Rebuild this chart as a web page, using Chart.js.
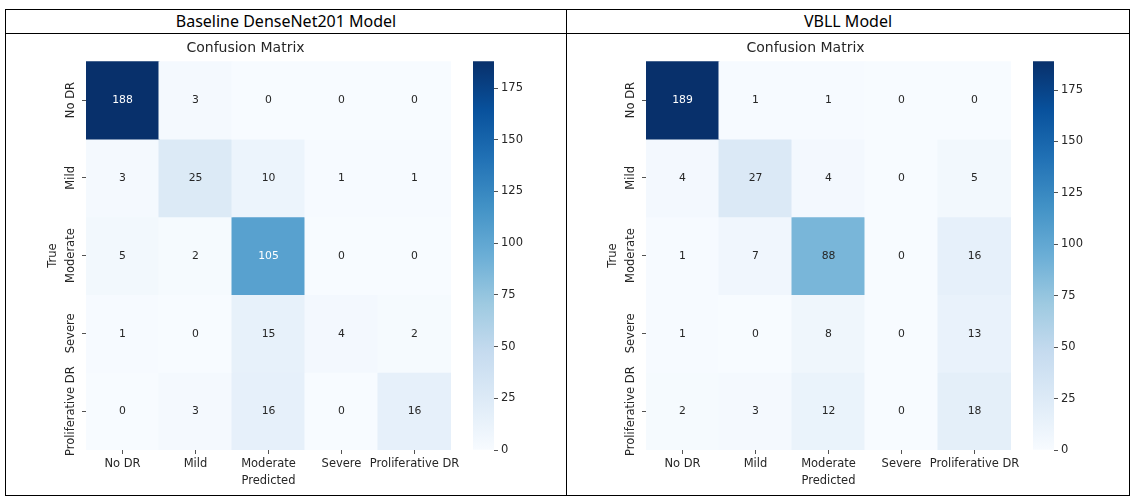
<!DOCTYPE html>
<html>
<head>
<meta charset="utf-8">
<script src="https://cdn.jsdelivr.net/npm/chart.js@4.4.0/dist/chart.umd.min.js"></script>
<style>
  body { margin:0; background:#fff; width:1136px; height:498px; position:relative; overflow:hidden; }
  .linea { position:absolute; background:#000; }
  .cabecera { position:absolute; top:10px; height:23px; line-height:23px; text-align:center;
              font-family:'Noto Sans', 'Open Sans', sans-serif; font-size:16px; color:#000; }
  .caja { position:absolute; top:36px; height:456px; }
</style>
</head>
<body>
<div class="linea" style="left:5px;top:9px;width:1125px;height:1px"></div>
<div class="linea" style="left:5px;top:33px;width:1125px;height:1px"></div>
<div class="linea" style="left:5px;top:495px;width:1125px;height:1px"></div>
<div class="linea" style="left:5px;top:9px;width:1px;height:487px"></div>
<div class="linea" style="left:566px;top:9px;width:1px;height:487px"></div>
<div class="linea" style="left:1129px;top:9px;width:1px;height:487px"></div>

<div class="cabecera" style="left:6px;width:560px">Baseline DenseNet201 Model</div>
<div class="cabecera" style="left:567px;width:562px">VBLL Model</div>

<div class="caja" style="left:473px;width:60px"><canvas id="cb-base"></canvas></div>
<div class="caja" style="left:1033px;width:60px"><canvas id="cb-vbll"></canvas></div>
<div class="caja" style="left:40px;width:430px"><canvas id="hm-base"></canvas></div>
<div class="caja" style="left:600px;width:430px"><canvas id="hm-vbll"></canvas></div>

<script>
/* matrices de confusión — filas = clase real, columnas = clase predicha */
const CLASES = ['No DR', 'Mild', 'Moderate', 'Severe', 'Proliferative DR'];

const BASE_FILAS = [
  [188, 3,   0, 0,  0],
  [  3, 25, 10, 1,  1],
  [  5, 2, 105, 0,  0],
  [  1, 0,  15, 4,  2],
  [  0, 3,  16, 0, 16],
];

const VBLL_FILAS = [
  [189, 1,  1, 0,  0],
  [  4, 27, 4, 0,  5],
  [  1, 7, 88, 0, 16],
  [  1, 0,  8, 0, 13],
  [  2, 3, 12, 0, 18],
];

const TICKS_BARRA = [0, 25, 50, 75, 100, 125, 150, 175];

// mapa de color "Blues" de matplotlib
const BLUES = ['#f7fbff', '#deebf7', '#c6dbef', '#9ecae1', '#6baed6',
               '#4292c6', '#2171b5', '#08519c', '#08306b'];

const FUENTE = "'DejaVu Sans', sans-serif";
const TEXTO = '#262626';

function hexRgb(h) {
  return [1, 3, 5].map(i => parseInt(h.slice(i, i + 2), 16));
}

function blues(t) {
  t = Math.max(0, Math.min(1, t));
  const pos = t * (BLUES.length - 1);
  const i = Math.min(Math.floor(pos), BLUES.length - 2);
  const f = pos - i;
  const a = hexRgb(BLUES[i]), b = hexRgb(BLUES[i + 1]);
  return a.map((c, k) => Math.round(c + (b[k] - c) * f));
}

function rgbCss(c) { return `rgb(${c[0]},${c[1]},${c[2]})`; }

function luminancia(c) {
  const lin = c.map(v => {
    v /= 255;
    return v <= 0.03928 ? v / 12.92 : Math.pow((v + 0.055) / 1.055, 2.4);
  });
  return 0.2126 * lin[0] + 0.7152 * lin[1] + 0.0722 * lin[2];
}

// etiquetas del eje y giradas 90° como en seaborn
const etiquetasY = {
  id: 'etiquetasY',
  afterDraw(chart) {
    const s = chart.scales.y;
    const ctx = chart.ctx;
    ctx.save();
    ctx.fillStyle = TEXTO;
    ctx.font = `11.5px ${FUENTE}`;
    ctx.textAlign = 'center';
    ctx.textBaseline = 'middle';
    s.ticks.forEach((t, i) => {
      ctx.save();
      ctx.translate(s.right - 15, s.getPixelForValue(t.value));
      ctx.rotate(-Math.PI / 2);
      ctx.fillText(CLASES[i], 0, 0);
      ctx.restore();
    });
    ctx.restore();
  }
};

// números dentro de cada celda
const anotaciones = {
  id: 'anotaciones',
  afterDatasetsDraw(chart) {
    const ctx = chart.ctx;
    ctx.save();
    ctx.font = `10.8px ${FUENTE}`;
    ctx.textAlign = 'center';
    ctx.textBaseline = 'middle';
    chart.data.datasets.forEach((ds, i) => {
      chart.getDatasetMeta(i).data.forEach((el, j) => {
        const col = ds.colores[j];
        ctx.fillStyle = luminancia(col) > 0.408 ? TEXTO : '#ffffff';
        ctx.fillText(String(ds.valores[j]), el.x, (el.y + el.base) / 2 + 0.5);
      });
    });
    ctx.restore();
  }
};

function heatmap(id, filas) {
  const vmax = Math.max(...filas.flat());
  const datasets = filas.map((fila, i) => {
    const colores = fila.map(v => blues(v / vmax));
    return {
      data: fila.map(() => [i, i + 1]),
      valores: fila,
      colores: colores,
      backgroundColor: colores.map(rgbCss),
      borderWidth: 0,
      grouped: false,
      barPercentage: 1,
      categoryPercentage: 1,
      inflateAmount: 0.5,
    };
  });

  new Chart(document.getElementById(id), {
    type: 'bar',
    data: { labels: CLASES, datasets },
    options: {
      responsive: true,
      maintainAspectRatio: false,
      animation: false,
      layout: { padding: { top: 0, right: 19, bottom: 0, left: 0 } },
      plugins: {
        legend: { display: false },
        tooltip: { enabled: false },
        title: {
          display: true, text: 'Confusion Matrix', color: TEXTO,
          font: { family: FUENTE, size: 14, weight: 'normal', lineHeight: 1.2 },
          padding: { top: 4, bottom: 4.4 }
        }
      },
      scales: {
        x: {
          type: 'category',
          offset: true,
          border: { display: false },
          grid: { drawOnChartArea: false, offset: false, tickLength: 4, tickColor: TEXTO, tickWidth: 0.8 },
          ticks: { color: TEXTO, font: { family: FUENTE, size: 11.5 }, padding: 3, maxRotation: 0, autoSkip: false },
          title: {
            display: true, text: 'Predicted', color: TEXTO,
            font: { family: FUENTE, size: 11.5, lineHeight: 1.2 },
            padding: { top: 0, bottom: 4 }
          },
          afterFit: s => { s.height = 42; s.paddingLeft = 0; s.paddingRight = 0; }
        },
        y: {
          type: 'linear',
          min: 0, max: 5,
          reverse: true,
          afterBuildTicks: s => { s.ticks = CLASES.map((_, i) => ({ value: i + 0.5 })); },
          border: { display: false },
          grid: { drawOnChartArea: false, tickLength: 4, tickColor: TEXTO, tickWidth: 0.8 },
          ticks: { display: false },
          title: {
            display: true, text: 'True', color: TEXTO,
            font: { family: FUENTE, size: 11.5, lineHeight: 1.2 },
            padding: { top: 6, bottom: 0 }
          },
          afterFit: s => { s.width = 46; s.paddingTop = 0; s.paddingBottom = 0; }
        }
      }
    },
    plugins: [etiquetasY, anotaciones]
  });
  return vmax;
}

function gradiente(chart) {
  const a = chart.chartArea;
  if (!a) return BLUES[0];
  const g = chart.ctx.createLinearGradient(0, a.bottom, 0, a.top);
  BLUES.forEach((c, i) => g.addColorStop(i / (BLUES.length - 1), c));
  return g;
}

function barraColor(id, vmax) {
  new Chart(document.getElementById(id), {
    type: 'bar',
    data: {
      labels: [''],
      datasets: [{
        data: [vmax],
        backgroundColor: c => gradiente(c.chart),
        borderWidth: 0,
        barPercentage: 1,
        categoryPercentage: 1,
      }]
    },
    options: {
      responsive: true,
      maintainAspectRatio: false,
      animation: false,
      layout: { padding: { top: 25.2, bottom: 42, left: 0, right: 0 } },
      plugins: { legend: { display: false }, tooltip: { enabled: false } },
      scales: {
        x: { display: false },
        y: {
          position: 'right',
          min: 0, max: vmax,
          afterBuildTicks: s => { s.ticks = TICKS_BARRA.map(v => ({ value: v })); },
          border: { display: false },
          grid: { drawOnChartArea: false, tickLength: 4, tickColor: TEXTO, tickWidth: 0.8 },
          ticks: { color: TEXTO, font: { family: FUENTE, size: 11.5 }, padding: 3 },
          afterFit: s => { s.width = 39; s.paddingTop = 0; s.paddingBottom = 0; }
        }
      }
    }
  });
}

barraColor('cb-base', heatmap('hm-base', BASE_FILAS));
barraColor('cb-vbll', heatmap('hm-vbll', VBLL_FILAS));
</script>
</body>
</html>
